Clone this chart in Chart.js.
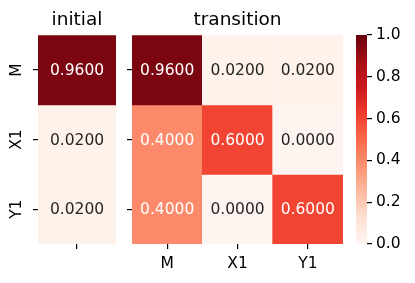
<!DOCTYPE html>
<html>
<head>
<meta charset="utf-8">
<script src="https://cdn.jsdelivr.net/npm/chart.js@4"></script>
<style>
  body { margin: 0; background: #fff; }
  #wrap { position: relative; width: 415px; height: 283px; }
  canvas { position: absolute; top: 0; }
</style>
</head>
<body>
<div id="wrap">
  <canvas id="initChart" width="120" height="283" style="left:0px"></canvas>
  <canvas id="transChart" width="230" height="283" style="left:120px"></canvas>
  <canvas id="barChart" width="65" height="283" style="left:350px"></canvas>
</div>
<script>
const states = ['M', 'X1', 'Y1'];
const initial = [0.96, 0.02, 0.02];
const transition = [
  [0.96, 0.02, 0.02],
  [0.40, 0.60, 0.00],
  [0.40, 0.00, 0.60]
];
const colorbarTicks = [0, 0.2, 0.4, 0.6, 0.8, 1.0];

// matplotlib "Reds"
const reds = ['#fff5f0', '#fee0d2', '#fcbba1', '#fc9272', '#fb6a4a', '#ef3b2c', '#cb181d', '#a50f15', '#67000d'];

function hexToRgb(h) {
  return [parseInt(h.slice(1, 3), 16), parseInt(h.slice(3, 5), 16), parseInt(h.slice(5, 7), 16)];
}
function cmap(v) {
  const p = Math.min(Math.max(v, 0), 1) * (reds.length - 1);
  const i = Math.min(Math.floor(p), reds.length - 2);
  const t = p - i;
  const a = hexToRgb(reds[i]), b = hexToRgb(reds[i + 1]);
  const c = a.map((x, k) => Math.round(x + (b[k] - x) * t));
  return `rgb(${c[0]},${c[1]},${c[2]})`;
}

const family = 'DejaVu Sans';
const tickFont = { family: family, size: 15.5 };
const gridOpts = { drawOnChartArea: false, tickLength: 5, color: '#000', lineWidth: 1.2, offset: false };

const cellLabels = {
  id: 'cellLabels',
  afterDatasetsDraw(chart) {
    const c = chart.ctx;
    c.save();
    c.font = '15.5px "DejaVu Sans"';
    c.textAlign = 'center';
    c.textBaseline = 'middle';
    chart.data.datasets.forEach((ds, i) => {
      if (!ds.values) return;
      chart.getDatasetMeta(i).data.forEach((el, j) => {
        const v = ds.values[j];
        c.fillStyle = v > 0.3 ? '#fff' : '#262626';
        c.fillText(v.toFixed(4), el.x, (el.y + el.base) / 2 + 1);
      });
    });
    c.restore();
  }
};

// rotated row labels, read bottom to top like matplotlib
const rowLabels = {
  id: 'rowLabels',
  afterDraw(chart, args, opts) {
    if (!opts.show) return;
    const c = chart.ctx;
    const y = chart.scales.y;
    c.save();
    c.font = '15.5px "DejaVu Sans"';
    c.fillStyle = '#000';
    c.textAlign = 'center';
    c.textBaseline = 'middle';
    y.ticks.forEach(t => {
      c.save();
      c.translate(17, y.getPixelForValue(t.value));
      c.rotate(-Math.PI / 2);
      c.fillText(states[Math.floor(t.value)], 0, 0);
      c.restore();
    });
    c.restore();
  }
};

function heatmap(id, cols, rows, title, showY, yWidth, padRight) {
  const datasets = rows.map((row, i) => ({
    data: cols.map(() => [i, i + 1]),
    values: row,
    backgroundColor: row.map(v => cmap(v)),
    borderWidth: 0,
    grouped: false,
    barPercentage: 1,
    categoryPercentage: 1
  }));
  return new Chart(document.getElementById(id), {
    type: 'bar',
    data: { labels: cols, datasets: datasets },
    options: {
      responsive: false,
      animation: false,
      layout: { padding: { left: 0, right: padRight, top: 0, bottom: 0 } },
      plugins: {
        legend: { display: false },
        tooltip: { enabled: false },
        rowLabels: { show: showY },
        title: {
          display: true,
          text: title,
          fullSize: false,
          color: '#000',
          font: { family: family, size: 18.5, weight: 'normal' },
          padding: { top: 9, bottom: 4 }
        }
      },
      scales: {
        x: {
          grid: gridOpts,
          border: { display: false },
          ticks: { font: tickFont, color: '#000', padding: 6, maxRotation: 0 },
          afterFit: s => { s.height = 39; }
        },
        y: {
          type: 'linear',
          min: 0,
          max: 3,
          reverse: true,
          afterBuildTicks: s => { s.ticks = states.map((_, i) => ({ value: i + 0.5 })); },
          grid: gridOpts,
          border: { display: false },
          ticks: { display: false },
          afterFit: s => { s.width = yWidth; }
        }
      }
    },
    plugins: [cellLabels, rowLabels]
  });
}

heatmap('initChart', [''], initial.map(v => [v]), 'initial', true, 38, 4);
heatmap('transChart', states, transition, 'transition', false, 12, 7);

new Chart(document.getElementById('barChart'), {
  type: 'bar',
  data: {
    labels: [''],
    datasets: [{
      data: [[0, 1]],
      borderWidth: 0,
      barPercentage: 1,
      categoryPercentage: 1,
      backgroundColor: ctx => {
        const a = ctx.chart.chartArea;
        if (!a) return reds[4];
        const g = ctx.chart.ctx.createLinearGradient(0, a.bottom, 0, a.top);
        reds.forEach((c, i) => g.addColorStop(i / (reds.length - 1), c));
        return g;
      }
    }]
  },
  options: {
    responsive: false,
    animation: false,
    layout: { padding: { left: 6, right: 0, top: 35, bottom: 39 } },
    plugins: { legend: { display: false }, tooltip: { enabled: false } },
    scales: {
      x: { display: false },
      y: {
        position: 'right',
        min: 0,
        max: 1,
        afterBuildTicks: s => { s.ticks = colorbarTicks.map(v => ({ value: v })); },
        grid: gridOpts,
        border: { display: false },
        ticks: { font: tickFont, color: '#000', padding: 4, callback: v => v.toFixed(1) },
        afterFit: s => { s.width = 48; }
      }
    }
  }
});
</script>
</body>
</html>
